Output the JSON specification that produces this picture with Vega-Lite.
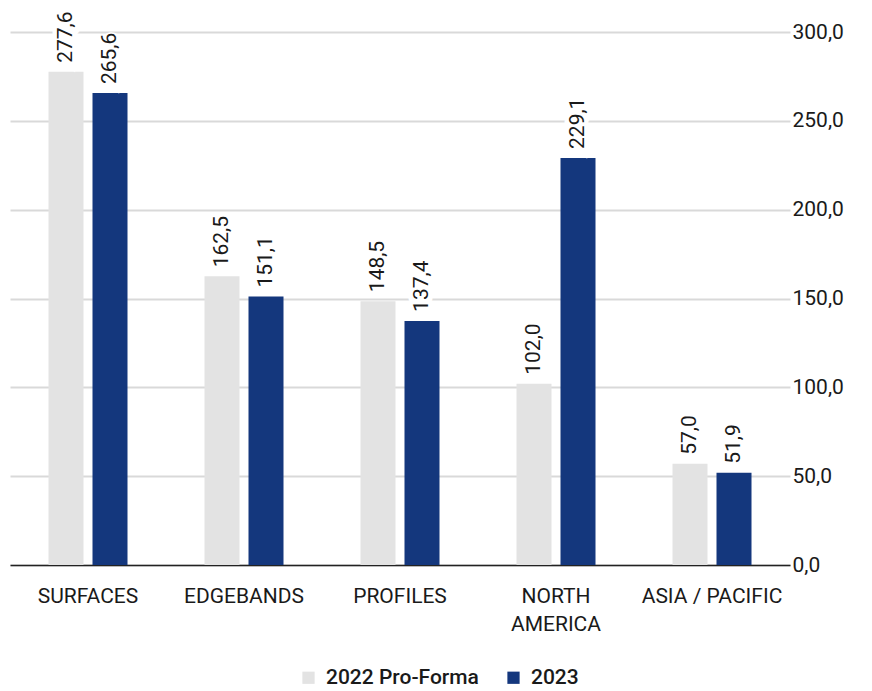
{
  "$schema": "https://vega.github.io/schema/vega-lite/v6.json",
  "width": 780,
  "height": 533,
  "autosize": {"type": "none"},
  "padding": {"left": 10, "top": 32, "right": 82, "bottom": 126},
  "background": "white",
  "config": {
    "locale": {"number": {"decimal": ",", "thousands": ".", "grouping": [3], "currency": ["", " €"]}},
    "font": "Roboto",
    "view": {"stroke": null}
  },
  "data": {
    "values": [
      {"category": "SURFACES", "series": "2022 Pro-Forma", "value": 277.6},
      {"category": "SURFACES", "series": "2023", "value": 265.6},
      {"category": "EDGEBANDS", "series": "2022 Pro-Forma", "value": 162.5},
      {"category": "EDGEBANDS", "series": "2023", "value": 151.1},
      {"category": "PROFILES", "series": "2022 Pro-Forma", "value": 148.5},
      {"category": "PROFILES", "series": "2023", "value": 137.4},
      {"category": "NORTH AMERICA", "series": "2022 Pro-Forma", "value": 102.0},
      {"category": "NORTH AMERICA", "series": "2023", "value": 229.1},
      {"category": "ASIA / PACIFIC", "series": "2022 Pro-Forma", "value": 57.0},
      {"category": "ASIA / PACIFIC", "series": "2023", "value": 51.9}
    ]
  },
  "encoding": {
    "x": {
      "field": "category",
      "type": "nominal",
      "sort": null,
      "scale": {"paddingInner": 0, "paddingOuter": 0},
      "axis": {
        "title": null,
        "labelAngle": 0,
        "ticks": false,
        "domain": true,
        "domainColor": "#222222",
        "domainWidth": 1.5,
        "labelFontSize": 21,
        "labelColor": "#1a1a1a",
        "labelPadding": 20,
        "labelLineHeight": 28,
        "labelExpr": "datum.label == 'NORTH AMERICA' ? ['NORTH', 'AMERICA'] : datum.label"
      }
    },
    "xOffset": {
      "field": "series",
      "type": "nominal",
      "scale": {"paddingInner": 0.2045, "paddingOuter": 0.875}
    },
    "y": {
      "field": "value",
      "type": "quantitative",
      "scale": {"domain": [0, 300]},
      "axis": {
        "orient": "right",
        "title": null,
        "values": [0, 50, 100, 150, 200, 250, 300],
        "format": ".1f",
        "grid": true,
        "gridColor": "#d9d9d9",
        "gridWidth": 2,
        "domain": false,
        "ticks": false,
        "labelPadding": 2,
        "labelFontSize": 21,
        "labelColor": "#1a1a1a"
      }
    }
  },
  "layer": [
    {
      "mark": {"type": "bar"},
      "encoding": {
        "color": {
          "field": "series",
          "type": "nominal",
          "scale": {"domain": ["2022 Pro-Forma", "2023"], "range": ["#e3e3e3", "#14377d"]},
          "legend": {
            "orient": "none",
            "legendX": 288,
            "legendY": 635,
            "title": null,
            "direction": "horizontal",
            "symbolType": "square",
            "symbolSize": 150,
            "symbolStrokeWidth": 0,
            "labelFontSize": 21,
            "labelFontWeight": 500,
            "labelColor": "#1a1a1a",
            "labelOffset": 7,
            "columnPadding": 24
          }
        }
      }
    },
    {
      "mark": {"type": "text", "angle": 270, "align": "left", "baseline": "middle", "dx": 6, "fontSize": 21, "stroke": "white", "strokeWidth": 9, "fill": "white"},
      "encoding": {"text": {"field": "value", "type": "quantitative", "format": ".1f"}}
    },
    {
      "mark": {"type": "text", "angle": 270, "align": "left", "baseline": "middle", "dx": 9, "fontSize": 21, "fill": "#1a1a1a"},
      "encoding": {"text": {"field": "value", "type": "quantitative", "format": ".1f"}}
    }
  ]
}
